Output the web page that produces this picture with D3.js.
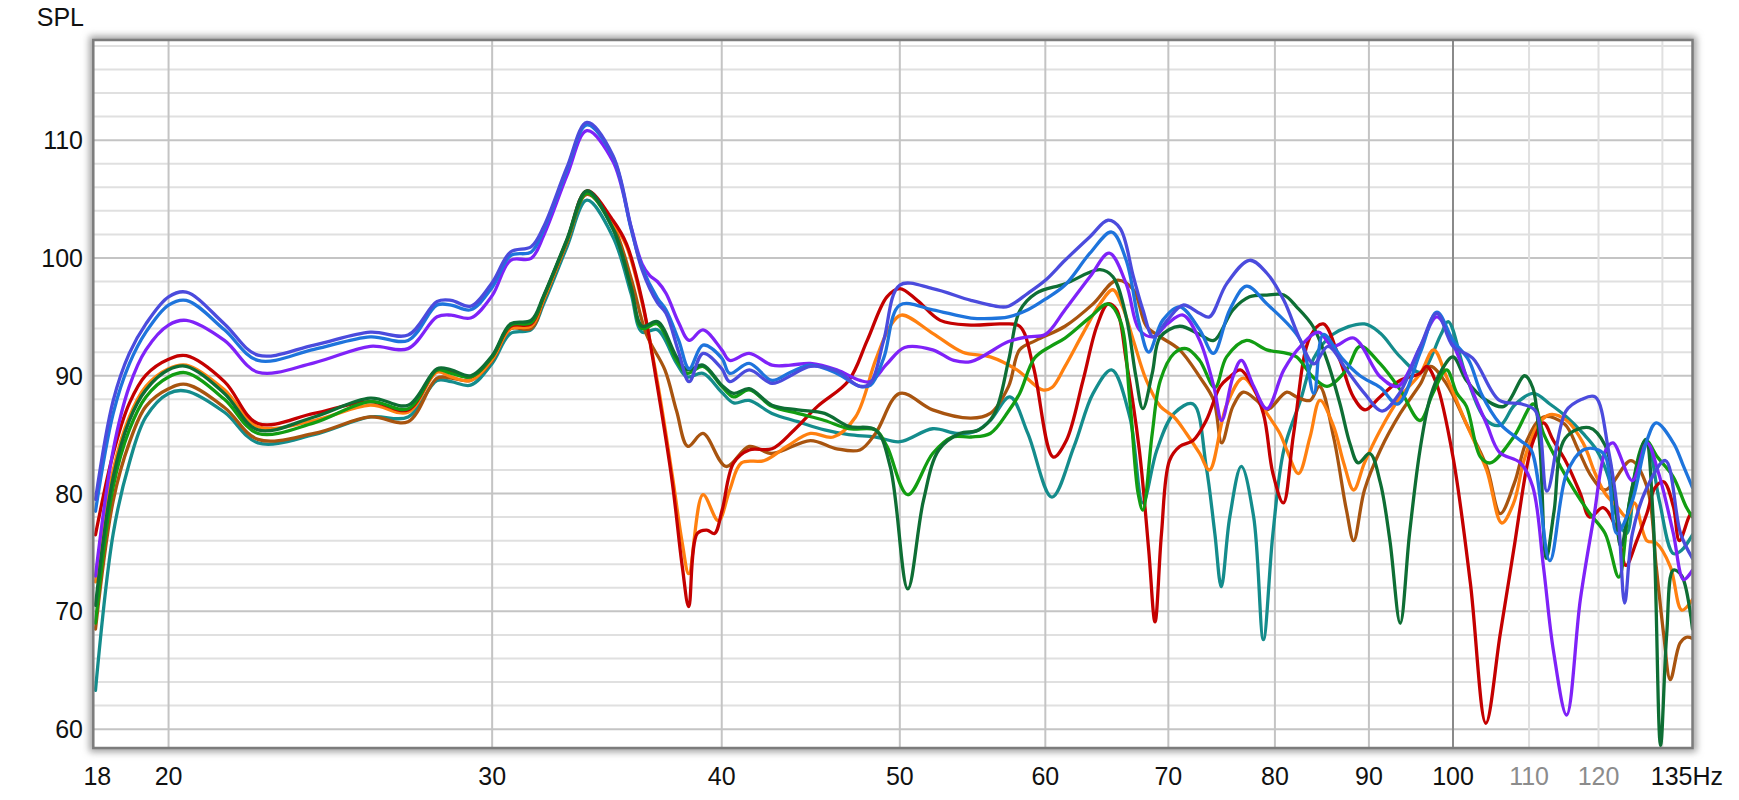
<!DOCTYPE html>
<html><head><meta charset="utf-8">
<script src="https://cdn.jsdelivr.net/npm/d3@7"></script>
<style>
html,body{margin:0;padding:0;background:#fff;}
svg{display:block;}
text{font-family:"Liberation Sans",Arial,sans-serif;}
</style></head><body>
<svg id="chart" width="1739" height="800"></svg>
<script>
// ---------- data (frequency Hz, SPL dB) ----------
const yTickLabels = [60,70,80,90,100,110];
const xMajorTicks = [20,30,40,50,60,70,80,90,100];
const xMinorTicks = [110,120,130];
const xMinorLabels = [110,120];
const xStartLabel = "18";
const xEndLabel = "135";
const xUnit = "Hz";
const yTitle = "SPL";

const slateBlue = [[18.25,79.5],[18.66,87.9],[19.04,91.9],[19.44,94.4],[20.0,96.7],[20.45,97.1],[21.45,94.4],[22.37,91.75],[24.0,92.6],[25.75,93.7],[27.0,93.45],[28.0,96.3],[28.5,96.4],[29.2,95.9],[30.0,97.9],[30.7,100.5],[31.5,100.95],[32.0,102.65],[32.95,107.7],[33.78,111.5],[34.9,108.7],[35.7,102.65],[36.2,99.0],[36.9,96.2],[37.3,95.3],[37.9,92.0],[38.4,89.5],[39.07,91.9],[40.0,90.6],[40.4,89.5],[41.4,90.5],[42.6,89.35],[43.6,90.0],[44.7,90.8],[46.2,90.4],[47.56,89.1],[48.2,89.4],[49.0,93.0],[50.0,97.7],[52.1,97.4],[54.66,96.4],[56.7,95.85],[57.3,95.9],[58.7,97.0],[60.0,98.1],[61.5,99.8],[63.45,101.8],[64.9,103.2],[65.9,102.5],[67.0,98.4],[67.8,95.6],[68.7,93.3],[69.9,94.7],[71.3,96.0],[72.8,95.3],[73.7,95.0],[75.3,97.8],[77.5,99.8],[79.2,98.7],[80.9,96.4],[82.6,93.0],[84.0,91.0],[85.5,92.5],[87.5,90.5],[89.5,88.5],[91.5,87.0],[93.5,88.5],[96.0,92.5],[98.0,95.3],[100.0,92.5],[102.5,91.5],[106.0,87.9],[109.0,87.6],[110.9,87.0],[112.5,80.2],[115.2,87.0],[117.5,88.0],[119.5,88.2],[121.5,83.7],[123.0,78.0],[124.0,70.7],[125.2,76.6],[127.5,80.5],[130.5,82.8],[133.0,76.6],[135,74.5]];

const blue = [[18.25,78.5],[18.66,86.8],[19.04,91.0],[19.44,93.7],[20.0,96.0],[20.45,96.4],[21.45,93.9],[22.37,91.3],[24.0,92.24],[25.75,93.3],[27.0,93.0],[28.0,96.0],[28.5,96.0],[29.2,95.6],[30.0,97.5],[30.7,100.2],[31.5,100.5],[32.0,102.4],[32.95,107.5],[33.78,111.3],[34.9,108.6],[35.7,102.5],[36.2,99.2],[36.9,96.6],[37.3,95.6],[37.9,93.0],[38.4,90.6],[39.07,92.6],[40.0,91.5],[40.4,90.2],[41.4,91.05],[42.6,89.6],[43.6,90.3],[44.7,90.9],[46.2,90.2],[47.56,89.1],[48.2,89.2],[49.0,91.5],[50.0,96.0],[52.1,95.6],[54.66,94.9],[56.7,94.9],[57.3,95.0],[58.7,95.6],[60.0,96.5],[61.5,97.7],[63.45,100.4],[65.2,102.2],[66.4,99.8],[67.5,94.4],[68.3,92.0],[69.5,94.7],[71.0,95.85],[72.8,93.9],[74.06,91.9],[75.6,95.6],[77.2,97.6],[79.2,96.1],[82.6,93.0],[84.0,88.5],[85.0,93.5],[87.0,91.5],[89.0,90.0],[91.3,89.0],[93.3,87.6],[96.0,92.0],[98.0,95.4],[100.0,93.0],[102.0,91.3],[103.6,88.5],[106.1,85.9],[108.8,84.5],[110.3,83.7],[112.9,74.3],[115.3,81.7],[117.7,83.7],[120.0,83.7],[121.1,83.1],[122.8,76.6],[125.2,79.4],[127.5,84.5],[129.0,86.0],[131.8,84.3],[133.5,82.3],[135,80.5]];

const purple = [[18.25,73.0],[18.66,83.7],[19.04,89.1],[19.44,92.2],[20.0,94.3],[20.45,94.7],[21.45,93.0],[22.37,90.3],[24.0,91.1],[25.75,92.5],[27.0,92.3],[28.0,95.0],[28.5,95.15],[29.2,94.9],[30.0,96.8],[30.7,99.8],[31.5,99.96],[32.0,101.9],[32.95,107.0],[33.78,110.8],[34.9,108.2],[35.7,102.65],[36.2,99.5],[36.55,98.5],[36.9,98.0],[37.3,97.0],[37.9,94.5],[38.4,93.0],[39.07,93.9],[40.0,92.2],[40.4,91.3],[41.4,91.9],[42.6,90.9],[43.6,90.9],[44.7,91.05],[46.2,90.5],[47.56,89.6],[48.2,89.5],[49.2,91.0],[50.3,92.4],[52.1,92.2],[53.5,91.3],[54.66,91.2],[57.3,92.9],[58.7,93.3],[60.0,93.5],[61.5,95.6],[63.45,98.4],[65.0,100.4],[66.4,97.8],[67.5,93.9],[68.7,93.3],[69.9,94.4],[71.3,95.15],[72.8,93.0],[74.1,89.1],[74.84,86.2],[75.9,89.9],[76.7,91.3],[77.9,89.1],[79.2,87.2],[80.9,90.5],[82.6,92.5],[84.5,93.7],[86.0,92.5],[88.3,93.2],[91.3,89.9],[93.3,89.1],[96.0,92.5],[98.0,95.0],[100.0,92.7],[101.7,89.9],[104.3,85.9],[106.0,83.5],[108.8,82.6],[110.5,80.6],[112.0,73.8],[113.4,66.7],[115.3,61.2],[117.3,71.0],[119.3,78.0],[121.1,83.7],[122.2,84.3],[125.2,81.1],[127.5,84.3],[129.4,81.7],[131.8,76.6],[133.5,72.7],[135,73.5]];

const red = [[18.25,76.5],[18.66,83.4],[19.04,87.65],[19.44,90.05],[20.0,91.4],[20.45,91.7],[21.45,89.5],[22.37,85.95],[24.0,86.8],[25.75,87.8],[27.0,87.1],[28.0,90.5],[28.5,90.3],[29.2,89.9],[30.0,91.6],[30.7,94.2],[31.5,94.4],[32.0,96.7],[32.95,101.5],[33.78,105.7],[34.9,103.2],[35.5,101.2],[36.2,96.4],[36.9,89.1],[37.6,80.9],[38.07,73.8],[38.38,70.4],[38.79,76.6],[39.26,76.9],[39.64,76.6],[40.02,78.6],[40.6,82.6],[41.4,83.7],[42.6,83.8],[43.8,85.4],[45.1,87.4],[46.9,89.6],[48.0,93.0],[49.2,96.7],[50.0,97.4],[51.1,96.4],[52.6,94.7],[54.66,94.3],[56.8,94.4],[58.1,94.2],[59.1,90.8],[60.6,83.1],[61.6,84.5],[62.9,89.6],[64.0,94.2],[64.9,96.1],[65.6,95.6],[66.4,91.3],[67.5,83.7],[68.3,75.2],[68.84,69.1],[69.4,76.6],[70.1,82.8],[71.0,84.0],[72.2,84.5],[73.4,86.2],[74.7,89.1],[75.6,89.9],[76.6,90.5],[77.5,89.6],[78.85,86.8],[79.8,81.7],[80.85,79.2],[81.9,85.1],[83.6,93.3],[85.0,94.4],[86.8,91.3],[88.26,88.2],[89.56,87.1],[91.26,88.2],[93.57,89.6],[95.95,90.2],[96.75,90.8],[97.97,89.3],[100.0,83.1],[102.2,72.4],[104.2,60.5],[106.1,68.1],[107.9,75.2],[109.7,82.3],[110.6,84.5],[112.0,86.0],[113.4,84.5],[115.3,82.6],[117.3,80.0],[118.7,78.0],[120.7,78.8],[122.8,76.9],[124.2,73.9],[125.9,76.0],[127.5,78.3],[128.8,80.5],[130.2,81.0],[131.8,78.9],[132.8,76.0],[134.6,78.2],[135,78.3]];

const orange = [[18.25,72.5],[18.66,82.0],[19.04,86.5],[19.44,89.1],[20.0,90.6],[20.45,90.9],[21.45,88.8],[22.37,85.67],[24.0,86.2],[25.75,87.5],[27.0,86.9],[28.0,90.3],[28.5,89.9],[29.2,89.6],[30.0,91.4],[30.7,94.0],[31.5,94.2],[32.0,96.5],[32.95,101.4],[33.78,105.6],[34.9,103.0],[35.5,101.0],[36.2,96.2],[36.9,89.5],[37.6,81.5],[38.07,75.8],[38.38,73.2],[39.07,79.9],[39.83,77.7],[40.4,80.3],[41.0,82.6],[42.2,82.8],[43.4,84.0],[44.7,85.1],[46.0,84.8],[47.3,86.5],[48.5,91.3],[49.4,94.2],[50.1,95.15],[52.1,93.6],[54.1,92.0],[56.0,91.6],[57.9,90.5],[59.8,88.8],[60.5,89.0],[61.5,90.8],[62.9,93.6],[64.25,96.1],[65.3,97.3],[66.1,95.85],[67.0,93.0],[68.1,89.6],[69.3,87.4],[70.5,86.5],[71.6,85.1],[72.8,83.4],[73.7,82.0],[75.3,87.5],[76.9,89.8],[79.2,86.8],[80.5,85.1],[81.2,83.7],[82.4,81.7],[83.6,84.8],[84.65,87.9],[86.1,85.7],[87.2,82.6],[88.3,80.3],[89.5,82.6],[91.3,85.4],[93.6,88.2],[96.0,90.2],[97.6,92.2],[99.2,89.9],[101.7,85.9],[104.3,82.0],[106.3,77.5],[107.9,79.2],[109.3,82.8],[111.1,85.7],[112.9,86.7],[115.3,86.2],[117.7,84.3],[119.5,81.7],[121.0,80.0],[122.8,78.9],[124.3,78.0],[125.5,79.2],[127.5,76.0],[129.0,75.8],[131.3,73.8],[133.2,70.1],[135,71.0]];

const green = [[18.25,69.0],[18.66,80.6],[19.04,85.4],[19.44,88.2],[20.0,89.9],[20.45,90.25],[21.45,88.0],[22.37,85.1],[24.0,86.0],[25.75,87.8],[27.0,87.2],[28.0,90.5],[28.5,90.2],[29.2,89.9],[30.0,91.6],[30.7,94.3],[31.5,94.5],[32.0,96.7],[32.95,101.5],[33.78,105.5],[34.9,102.5],[35.7,97.5],[36.2,94.0],[36.9,94.4],[37.8,91.3],[38.3,90.2],[39.07,90.8],[40.0,89.1],[40.6,88.2],[41.4,88.8],[42.6,87.4],[44.0,86.8],[45.5,86.2],[46.9,85.5],[48.5,85.4],[49.2,84.0],[50.5,79.9],[52.1,83.4],[53.4,84.8],[54.66,84.8],[56.0,85.1],[57.3,87.0],[58.1,88.5],[59.2,91.5],[60.4,92.5],[61.5,93.2],[63.5,95.0],[64.9,96.1],[65.9,94.7],[66.7,87.9],[67.4,80.0],[67.8,78.6],[68.6,85.1],[69.3,89.6],[70.5,91.9],[71.6,92.3],[72.8,91.3],[74.2,89.0],[75.3,91.6],[77.2,93.0],[79.2,92.2],[81.2,91.9],[82.2,91.6],[83.9,89.9],[85.4,89.1],[87.5,90.5],[89.0,92.5],[91.3,91.0],[93.6,88.8],[95.95,86.2],[97.5,88.5],[99.2,90.5],[100.5,88.5],[101.7,87.4],[103.5,83.1],[104.8,82.6],[107.9,84.8],[110.6,87.6],[112.0,85.1],[114.4,82.3],[116.4,80.3],[118.7,78.3],[121.0,76.6],[123.1,72.9],[124.8,79.4],[127.3,84.5],[129.2,83.1],[131.8,81.4],[133.9,78.9],[135,78.0]];

const brown = [[18.25,68.5],[18.66,79.4],[19.04,84.3],[19.44,87.4],[20.0,88.9],[20.45,89.26],[21.45,87.3],[22.37,84.6],[24.0,85.1],[25.75,86.5],[27.0,86.1],[28.0,89.8],[28.5,89.8],[29.2,89.6],[30.0,91.3],[30.7,94.0],[31.5,94.0],[32.0,96.4],[32.95,101.3],[33.78,105.4],[34.9,102.8],[35.7,98.3],[36.4,93.5],[37.25,90.5],[37.8,87.0],[38.34,84.0],[39.07,85.1],[40.22,82.3],[41.4,84.0],[42.6,83.4],[44.7,84.5],[46.2,83.8],[47.56,83.7],[48.5,85.1],[50.0,88.5],[52.1,87.1],[54.66,86.4],[56.0,86.8],[57.3,89.1],[58.1,92.2],[59.3,93.0],[61.5,94.2],[63.7,96.1],[65.6,98.1],[67.0,97.3],[68.1,94.2],[69.3,93.3],[71.0,92.2],[72.8,89.9],[74.1,87.9],[74.84,84.3],[75.9,87.4],[76.9,88.6],[78.2,87.9],[79.2,87.1],[81.2,88.6],[82.2,88.2],[83.6,87.9],[84.6,89.1],[86.1,84.8],[87.5,78.6],[88.3,76.0],[89.5,80.3],[91.3,83.7],[93.6,86.8],[96.0,89.3],[97.2,90.8],[99.2,89.3],[101.7,85.9],[104.3,82.3],[106.1,78.3],[108.0,80.9],[109.7,84.5],[112.0,86.5],[115.0,85.9],[117.0,83.7],[119.0,81.4],[121.0,80.3],[125.0,82.8],[127.5,80.6],[129.0,73.8],[130.2,68.1],[131.3,64.2],[132.9,67.3],[134.0,67.8],[135,67.7]];

const darkGreen = [[18.25,70.5],[18.66,81.4],[19.04,86.2],[19.44,88.8],[20.0,90.5],[20.45,90.8],[21.45,88.5],[22.37,85.4],[24.0,86.5],[25.75,88.1],[27.0,87.5],[28.0,90.6],[28.5,90.5],[29.2,90.0],[30.0,91.7],[30.7,94.4],[31.5,94.7],[32.0,96.8],[32.95,101.6],[33.78,105.7],[34.9,102.5],[35.7,97.5],[36.2,94.2],[36.9,94.6],[37.8,91.6],[38.3,90.5],[39.07,90.9],[40.0,89.2],[40.6,88.5],[41.4,88.9],[42.6,87.5],[44.0,87.1],[45.5,86.8],[46.9,85.7],[48.5,85.4],[49.4,82.3],[50.5,71.9],[51.5,79.4],[52.5,83.7],[53.9,85.1],[55.2,85.4],[56.3,86.8],[57.3,91.3],[58.1,95.5],[59.3,97.0],[61.5,97.8],[64.25,99.0],[65.3,98.4],[66.4,95.0],[67.2,90.0],[67.8,87.2],[68.6,90.2],[69.3,93.3],[71.0,94.2],[72.8,93.5],[74.1,93.0],[75.9,95.6],[77.5,96.7],[79.2,96.85],[80.9,96.85],[82.2,95.85],[83.9,94.2],[85.4,91.3],[86.8,87.6],[87.9,84.2],[88.8,82.6],[90.1,83.4],[91.3,80.9],[92.4,76.0],[93.6,69.0],[94.7,76.6],[95.95,83.7],[97.2,88.2],[98.6,90.5],[100.0,91.6],[101.7,89.6],[104.3,87.9],[106.6,87.4],[109.4,90.0],[110.5,89.0],[111.5,84.0],[112.4,74.5],[113.5,78.5],[115.1,84.7],[118.6,85.6],[121.0,84.1],[122.3,80.6],[123.4,75.5],[125.2,80.6],[127.3,84.6],[128.5,78.0],[129.7,58.6],[130.7,68.0],[131.8,73.5],[133.2,73.0],[135,68.5]];

const teal = [[18.25,63.3],[18.66,76.6],[19.04,82.6],[19.44,86.5],[20.0,88.5],[20.45,88.7],[21.45,86.9],[22.37,84.3],[24.0,85.0],[25.75,86.5],[27.0,86.5],[28.0,89.6],[28.5,89.5],[29.2,89.2],[30.0,91.05],[30.7,93.6],[31.5,93.9],[32.0,96.1],[32.95,100.95],[33.78,104.9],[34.9,101.8],[35.7,97.0],[36.2,93.7],[36.9,93.9],[37.8,91.05],[38.3,89.9],[39.07,90.2],[40.0,88.6],[40.6,87.7],[41.4,87.9],[42.6,86.8],[44.0,86.1],[45.5,85.4],[46.9,85.0],[48.5,84.8],[50.0,84.4],[52.1,85.5],[53.7,85.1],[55.0,85.3],[56.0,86.2],[57.4,88.2],[58.7,85.1],[60.5,79.7],[62.2,84.0],[63.7,88.5],[65.2,90.5],[66.7,86.5],[67.8,79.2],[69.0,83.7],[70.5,86.8],[72.2,87.6],[73.4,82.3],[74.2,76.6],[74.8,72.1],[75.6,78.0],[76.7,82.3],[77.9,78.0],[78.85,67.6],[79.8,76.6],[80.9,83.7],[82.6,87.9],[84.0,91.5],[86.0,93.5],[89.5,94.4],[91.3,93.6],[93.6,91.6],[96.0,90.3],[98.5,93.5],[99.4,94.6],[101.7,89.9],[104.3,86.2],[106.1,85.8],[108.0,87.5],[110.6,88.5],[112.9,87.6],[115.3,86.5],[117.7,85.1],[119.7,83.7],[121.5,81.4],[122.8,78.0],[124.3,76.6],[125.9,82.3],[127.5,84.5],[129.5,79.4],[131.8,74.9],[133.2,75.2],[135,76.5]];

// series in drawing order
const seriesList = [
  {name:"teal", values:teal},
  {name:"brown", values:brown},
  {name:"orange", values:orange},
  {name:"red", values:red},
  {name:"green", values:green},
  {name:"darkGreen", values:darkGreen},
  {name:"purple", values:purple},
  {name:"blue", values:blue},
  {name:"slateBlue", values:slateBlue}
];
const colors = {
  slateBlue:"#4b4bdd", blue:"#1e74dc", purple:"#7f22f8", red:"#c40000",
  orange:"#ff8010", green:"#129d12", brown:"#a8540f", darkGreen:"#0e6e34", teal:"#148c8c"
};

// ---------- layout ----------
const svg = d3.select("#chart");
const plotL = 93.3, plotR = 1692.5, plotT = 40, plotB = 748;
const x = d3.scaleLog().domain([18.2,135]).range([plotL,plotR]);
const y = d3.scaleLinear().domain([58.4,118.5]).range([plotB,plotT]);

const defs = svg.append("defs");
const flt = defs.append("filter").attr("id","shadow").attr("x","-5%").attr("y","-5%").attr("width","110%").attr("height","110%");
flt.append("feGaussianBlur").attr("stdDeviation",3.5);
defs.append("clipPath").attr("id","clip").append("rect")
  .attr("x",plotL).attr("y",plotT).attr("width",plotR-plotL).attr("height",plotB-plotT);

svg.append("rect").attr("x",plotL-4).attr("y",plotT-4).attr("width",plotR-plotL+8).attr("height",plotB-plotT+8)
  .attr("fill","#a0a0a0").attr("filter","url(#shadow)");
svg.append("rect").attr("x",plotL).attr("y",plotT).attr("width",plotR-plotL).attr("height",plotB-plotT).attr("fill","#fff");

const grid = svg.append("g").attr("clip-path","url(#clip)");
d3.range(60,119,2).forEach(v=>{
  grid.append("line").attr("x1",plotL).attr("x2",plotR).attr("y1",y(v)).attr("y2",y(v))
    .attr("stroke", v%10===0 ? "#c4c4c4" : "#e0e0e0").attr("stroke-width",2);
});
xMajorTicks.forEach(v=>{
  grid.append("line").attr("x1",x(v)).attr("x2",x(v)).attr("y1",plotT).attr("y2",plotB)
    .attr("stroke", v===100 ? "#8a8a8a" : "#c4c4c4").attr("stroke-width",2);
});
xMinorTicks.forEach(v=>{
  grid.append("line").attr("x1",x(v)).attr("x2",x(v)).attr("y1",plotT).attr("y2",plotB)
    .attr("stroke","#e0e0e0").attr("stroke-width",2);
});

const line = d3.line().x(d=>x(d[0])).y(d=>y(d[1])).curve(d3.curveCatmullRom.alpha(0.5));
const lines = svg.append("g").attr("clip-path","url(#clip)");
seriesList.forEach(s=>{
  lines.append("path").attr("d",line(s.values)).attr("fill","none")
    .attr("stroke",colors[s.name]).attr("stroke-width",3.3)
    .attr("stroke-linejoin","round").attr("stroke-linecap","round");
});

svg.append("rect").attr("x",plotL).attr("y",plotT).attr("width",plotR-plotL).attr("height",plotB-plotT)
  .attr("fill","none").attr("stroke","#7c7c7c").attr("stroke-width",2.5);

const fs = 25;
yTickLabels.forEach(v=>{
  svg.append("text").attr("x",83).attr("y",y(v)).attr("dy","0.36em").attr("text-anchor","end")
    .attr("font-size",fs).attr("fill","#111").text(v);
});
svg.append("text").attr("x",84).attr("y",26).attr("text-anchor","end").attr("font-size",fs).attr("fill","#111").text(yTitle);

const xLabY = 785;
xMajorTicks.forEach(v=>{
  svg.append("text").attr("x",x(v)).attr("y",xLabY).attr("text-anchor","middle")
    .attr("font-size",fs).attr("fill","#111").text(v);
});
xMinorLabels.forEach(v=>{
  svg.append("text").attr("x",x(v)).attr("y",xLabY).attr("text-anchor","middle")
    .attr("font-size",fs).attr("fill","#8c8c8c").text(v);
});
svg.append("text").attr("x",x(18.2)+4).attr("y",xLabY).attr("text-anchor","middle")
  .attr("font-size",fs).attr("fill","#111").text(xStartLabel);
svg.append("text").attr("x",x(135)).attr("y",xLabY).attr("text-anchor","end")
  .attr("font-size",fs).attr("fill","#111").text(xEndLabel);
svg.append("text").attr("x",x(135)).attr("y",xLabY).attr("text-anchor","start")
  .attr("font-size",fs).attr("fill","#111").text(xUnit);
</script>
</body></html>
